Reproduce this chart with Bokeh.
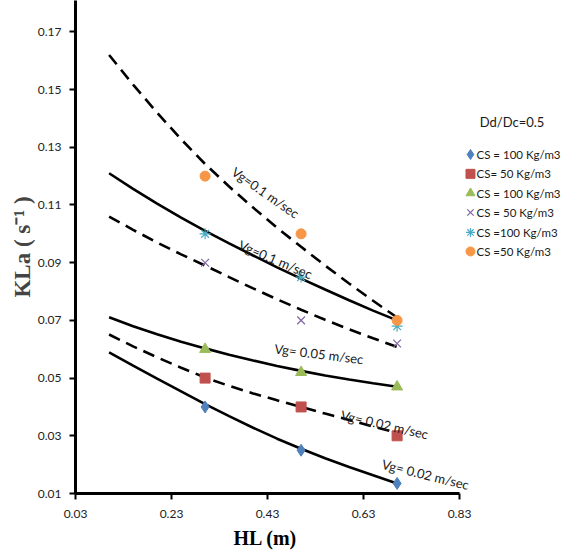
import math
from bokeh.plotting import figure
from bokeh.models import Range1d, FixedTicker, PrintfTickFormatter, Title
from bokeh.core.properties import value
from bokeh.embed import file_html
from bokeh.resources import INLINE

# ---- data ----
hl_points = [0.3, 0.5, 0.7]
kla_blue_cs100 = [0.040, 0.025, 0.0135]    # diamond, Vg=0.02
kla_red_cs50 = [0.050, 0.040, 0.030]       # square, Vg=0.02
kla_green_cs100 = [0.060, 0.052, 0.047]    # triangle, Vg=0.05
kla_purple_cs50 = [0.090, 0.070, 0.062]    # x, Vg=0.1
kla_cyan_cs100 = [0.100, 0.085, 0.068]     # star, Vg=0.1
kla_orange_cs50 = [0.120, 0.100, 0.070]    # circle, Vg=0.1

hl_fit = [0.10, 0.15, 0.20, 0.25, 0.30, 0.35, 0.40, 0.45, 0.50, 0.55, 0.60, 0.65, 0.70]
fit_blue = [0.0589, 0.0543, 0.0498, 0.0454, 0.0410, 0.0368, 0.0328, 0.0290, 0.0255, 0.0222, 0.0192, 0.0163, 0.0135]
fit_red = [0.0651, 0.0610, 0.0572, 0.0536, 0.0502, 0.0473, 0.0447, 0.0423, 0.0400, 0.0377, 0.0355, 0.0332, 0.0310]
fit_green = [0.0711, 0.0680, 0.0652, 0.0626, 0.0603, 0.0581, 0.0561, 0.0542, 0.0525, 0.0509, 0.0495, 0.0482, 0.0470]
fit_purple = [0.1060, 0.1014, 0.0970, 0.0929, 0.0890, 0.0850, 0.0811, 0.0773, 0.0737, 0.0702, 0.0669, 0.0638, 0.0608]
fit_cyan = [0.1210, 0.1156, 0.1105, 0.1056, 0.1010, 0.0967, 0.0925, 0.0884, 0.0845, 0.0807, 0.0770, 0.0734, 0.0700]
fit_orange = [0.1620, 0.1517, 0.1420, 0.1328, 0.1242, 0.1164, 0.1091, 0.1021, 0.0955, 0.0890, 0.0828, 0.0768, 0.0710]

x_ticks = [0.03, 0.23, 0.43, 0.63, 0.83]
y_ticks = [0.01, 0.03, 0.05, 0.07, 0.09, 0.11, 0.13, 0.15, 0.17]

legend_title = "Dd/Dc=0.5"
legend_labels = ["CS = 100 Kg/m3", "CS= 50 Kg/m3", "CS = 100 Kg/m3",
                 "CS = 50 Kg/m3", "CS =100 Kg/m3", "CS =50 Kg/m3"]
curve_labels = ["Vg=0.1 m/sec", "Vg=0.1 m/sec", "Vg= 0.05 m/sec",
                "Vg= 0.02 m/sec", "Vg= 0.02 m/sec"]

# ---- styles / positions ----
BLUE, RED, GREEN, PURPLE, CYAN, ORANGE = "#4F81BD", "#C0504D", "#9BBB59", "#8064A2", "#4BACC6", "#F79646"
SANS = "Lato"
SERIF = "Liberation Serif"

p = figure(frame_width=489, frame_height=493,
           x_range=Range1d(0.03, 1.04875), y_range=Range1d(0.01, 0.18088),
           min_border_left=75, min_border_right=0, min_border_top=0, min_border_bottom=30,
           output_backend="svg", toolbar_location=None)
p.outline_line_color = None
p.grid.visible = False
p.background_fill_color = "white"
p.border_fill_color = "white"

for ax in (p.xaxis[0], p.yaxis[0]):
    ax.axis_line_width = 3
    ax.axis_line_color = "black"
    ax.major_tick_line_width = 2
    ax.major_tick_line_color = "black"
    ax.major_tick_in = 0
    ax.major_tick_out = 6
    ax.minor_tick_line_color = None
    ax.major_label_text_font = SANS
    ax.major_label_text_font_size = "12px"
    ax.major_label_text_color = "#222222"
    ax.formatter = PrintfTickFormatter(format="%.2f")

p.xaxis.ticker = FixedTicker(ticks=x_ticks)
p.yaxis.ticker = FixedTicker(ticks=y_ticks)
p.xaxis.bounds = (0.03, 0.83)
p.xaxis.major_label_standoff = 10
p.yaxis.major_label_standoff = 8

p.yaxis.axis_label = "KLa ( s\u207b\u00b9 )"
p.yaxis.axis_label_text_font = SERIF
p.yaxis.axis_label_text_font_style = "bold"
p.yaxis.axis_label_text_font_size = "23px"
p.yaxis.axis_label_standoff = 0

p.add_layout(Title(text="HL (m)", align="left", offset=158, standoff=8,
                   text_font=SERIF, text_font_style="bold", text_font_size="20px",
                   text_color="black"), "below")

# fitted curves
p.line(hl_fit, fit_blue, line_color="black", line_width=2.6)
p.line(hl_fit, fit_red, line_color="black", line_width=2.6, line_dash="12 7")
p.line(hl_fit, fit_green, line_color="black", line_width=2.6)
p.line(hl_fit, fit_purple, line_color="black", line_width=2.6, line_dash="12 7")
p.line(hl_fit, fit_cyan, line_color="black", line_width=2.6)
p.line(hl_fit, fit_orange, line_color="black", line_width=2.6, line_dash="12 7")

# data points
p.scatter(hl_points, kla_blue_cs100, marker="diamond", size=12, fill_color=BLUE, line_color=BLUE)
p.scatter(hl_points, kla_red_cs50, marker="square", size=10, fill_color=RED, line_color=RED)
p.scatter(hl_points, kla_green_cs100, marker="triangle", size=11, fill_color=GREEN, line_color=GREEN)
p.scatter(hl_points, kla_purple_cs50, marker="x", size=11, line_color=PURPLE, line_width=1.2)
p.scatter(hl_points, kla_cyan_cs100, marker="asterisk", size=11, line_color=CYAN, line_width=1.2)
p.scatter(hl_points, kla_orange_cs50, marker="circle", size=10, fill_color=ORANGE, line_color=ORANGE)

# curve labels
lab_x = [0.4258, 0.4467, 0.5373, 0.6738, 0.7592]
lab_y = [0.1143, 0.0911, 0.0584, 0.0339, 0.0166]
lab_a = [math.radians(a) for a in (-35, -23, -7, -13, -14)]
p.text(lab_x, lab_y, text=curve_labels, angle=lab_a, text_align="center",
       text_baseline="middle", text_font=value(SANS), text_font_size="13px",
       text_color="#1a1a1a")

# legend (drawn manually to the right of the axes)
leg_y = [0.1275, 0.1208, 0.1141, 0.1074, 0.1005, 0.0939]
mx, tx = 0.8529, 0.8654
p.scatter([mx], [leg_y[0]], marker="diamond", size=10, fill_color=BLUE, line_color=BLUE)
p.scatter([mx], [leg_y[1]], marker="square", size=9, fill_color=RED, line_color=RED)
p.scatter([mx], [leg_y[2]], marker="triangle", size=9, fill_color=GREEN, line_color=GREEN)
p.scatter([mx], [leg_y[3]], marker="x", size=9, line_color=PURPLE, line_width=1.2)
p.scatter([mx], [leg_y[4]], marker="asterisk", size=9, line_color=CYAN, line_width=1.2)
p.scatter([mx], [leg_y[5]], marker="circle", size=9, fill_color=ORANGE, line_color=ORANGE)
p.text([tx] * 6, leg_y, text=legend_labels, text_align="left", text_baseline="middle",
       text_font=value(SANS), text_font_size="11.5px", text_color="#1a1a1a")
p.text([0.9394], [0.1386], text=[legend_title], text_align="center", text_baseline="middle",
       text_font=value(SANS), text_font_size="13px", text_color="#1a1a1a")

open("out.html", "w").write(file_html(p, INLINE))
